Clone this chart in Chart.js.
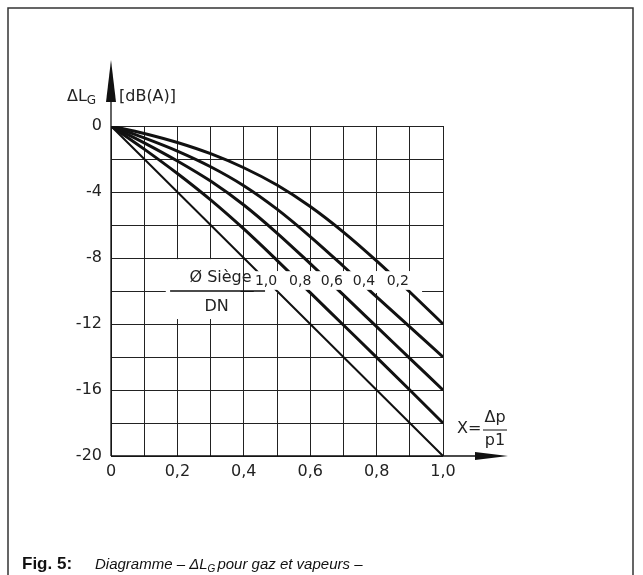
<!DOCTYPE html>
<html>
<head>
<meta charset="utf-8">
<script src="https://cdn.jsdelivr.net/npm/chart.js@4.4.1/dist/chart.umd.min.js"></script>
<style>
  html, body { margin: 0; padding: 0; background: #fff; }
  canvas { display: block; }
</style>
</head>
<body>
<canvas id="chart" width="643" height="575"></canvas>
<script>
// X = dp/p1 and correction dL_G [dB(A)] for each seat ratio (Ø siège / DN)
const xValues = [0, 0.1, 0.2, 0.3, 0.4, 0.5, 0.6, 0.7, 0.8, 0.9, 1.0];
const seatLabels = ['1,0', '0,8', '0,6', '0,4', '0,2'];
const dl10 = [0, -2, -4, -6, -8, -10, -12, -14, -16, -18, -20];
const dl08 = [0, -1.4, -2.88, -4.48, -6.24, -8.14, -10.1, -12.06, -14.02, -16.0, -18];
const dl06 = [0, -1.02, -2.12, -3.34, -4.79, -6.49, -8.34, -10.24, -12.16, -14.08, -16];
const dl04 = [0, -0.72, -1.52, -2.47, -3.62, -5.04, -6.7, -8.5, -10.36, -12.18, -14];
const dl02 = [0, -0.45, -1.0, -1.68, -2.53, -3.58, -4.88, -6.43, -8.18, -10.06, -12];
const xTickLabels = ['0', '0,2', '0,4', '0,6', '0,8', '1,0'];
const yTickLabels = ['0', '-4', '-8', '-12', '-16', '-20'];

const series = [dl10, dl08, dl06, dl04, dl02];
const FONT = '"DejaVu Sans", sans-serif';

function pts(arr) {
  return arr.map((v, i) => ({ x: xValues[i], y: v }));
}

const overlay = {
  id: 'overlay',
  beforeDatasetsDraw(chart) {
    const { ctx, scales: { x, y } } = chart;
    ctx.save();
    ctx.fillStyle = '#fff';
    // blank grid behind "Ø Siège / DN"
    let x0 = x.getPixelForValue(0.165), x1 = x.getPixelForValue(0.39);
    let y0 = y.getPixelForValue(-8.07), y1 = y.getPixelForValue(-11.7);
    ctx.fillRect(x0, y0, x1 - x0, y1 - y0);
    // blank grid behind curve labels, including the -10 line
    x0 = x.getPixelForValue(0.43); x1 = x.getPixelForValue(0.937);
    y0 = y.getPixelForValue(-8.8); y1 = y.getPixelForValue(-10) + 2;
    ctx.fillRect(x0, y0, x1 - x0, y1 - y0);
    ctx.restore();
  },
  afterDatasetsDraw(chart) {
    const { ctx, scales: { x, y } } = chart;
    ctx.save();
    // gap in the curves for the labels
    ctx.fillStyle = '#fff';
    let x0 = x.getPixelForValue(0.43), x1 = x.getPixelForValue(0.935);
    let y0 = y.getPixelForValue(-8.8), y1 = y.getPixelForValue(-9.93);
    ctx.fillRect(x0, y0, x1 - x0, y1 - y0);

    ctx.fillStyle = '#222';
    ctx.textAlign = 'center';
    ctx.textBaseline = 'middle';
    ctx.font = '16px ' + FONT;
    ctx.fillText('Ø Siège', x.getPixelForValue(0.33), y.getPixelForValue(-9.2));
    ctx.fillText('DN', x.getPixelForValue(0.318), y.getPixelForValue(-10.95));
    ctx.font = '14px ' + FONT;
    const labelX = [0.467, 0.57, 0.665, 0.762, 0.864];
    seatLabels.forEach((t, i) => {
      ctx.fillText(t, x.getPixelForValue(labelX[i]), y.getPixelForValue(-9.4));
    });

    // fraction bar and axes
    ctx.strokeStyle = '#111';
    ctx.lineWidth = 1.3;
    ctx.beginPath();
    ctx.moveTo(x.getPixelForValue(0.178), y.getPixelForValue(-10));
    ctx.lineTo(x.getPixelForValue(0.464), y.getPixelForValue(-10));
    const ax = x.getPixelForValue(0), ay = y.getPixelForValue(-20);
    ctx.moveTo(ax, ay);
    ctx.lineTo(ax, 90);
    ctx.moveTo(ax, ay);
    ctx.lineTo(480, ay);
    ctx.stroke();
    ctx.fillStyle = '#111';
    ctx.beginPath();
    ctx.moveTo(ax, 60);
    ctx.lineTo(ax + 5, 102);
    ctx.lineTo(ax - 5, 102);
    ctx.closePath();
    ctx.fill();
    ctx.beginPath();
    ctx.moveTo(508, ay);
    ctx.lineTo(475, ay - 4);
    ctx.lineTo(475, ay + 4);
    ctx.closePath();
    ctx.fill();

    // axis titles
    ctx.fillStyle = '#222';
    ctx.textAlign = 'left';
    ctx.font = '16px ' + FONT;
    ctx.fillText('ΔL', 67, 97);
    const w = ctx.measureText('ΔL').width;
    ctx.font = '12px ' + FONT;
    ctx.fillText('G', 67 + w, 101);
    ctx.font = '16px ' + FONT;
    ctx.fillText('[dB(A)]', 119, 97);
    ctx.fillText('X=', 457, 429);
    ctx.textAlign = 'center';
    ctx.fillText('Δp', 495, 418);
    ctx.fillText('p1', 495, 441);
    ctx.beginPath();
    ctx.lineWidth = 1;
    ctx.moveTo(483, 430);
    ctx.lineTo(507, 430);
    ctx.stroke();
    ctx.restore();
  },
  afterDraw(chart) {
    const { ctx } = chart;
    ctx.save();
    ctx.strokeStyle = '#333';
    ctx.lineWidth = 1.5;
    ctx.beginPath();
    ctx.moveTo(8, 575);
    ctx.lineTo(8, 8);
    ctx.lineTo(633, 8);
    ctx.lineTo(633, 575);
    ctx.stroke();
    ctx.fillStyle = '#111';
    ctx.textBaseline = 'alphabetic';
    ctx.textAlign = 'left';
    ctx.font = 'bold 17px "Liberation Sans", sans-serif';
    ctx.fillText('Fig. 5:', 22, 569);
    ctx.font = 'italic 15px "Liberation Sans", sans-serif';
    let cx = 95;
    const part1 = 'Diagramme – ΔL';
    ctx.fillText(part1, cx, 569);
    cx += ctx.measureText(part1).width;
    ctx.font = 'italic 10px "Liberation Sans", sans-serif';
    ctx.fillText('G', cx, 572);
    cx += ctx.measureText('G').width + 2;
    ctx.font = 'italic 15px "Liberation Sans", sans-serif';
    ctx.fillText('pour gaz et vapeurs –', cx, 569);
    ctx.restore();
  }
};

const datasets = series.map((s, i) => ({
  label: seatLabels[i],
  data: pts(s),
  borderColor: '#111',
  borderWidth: i === 0 ? 2 : 3,
  pointRadius: 0,
  cubicInterpolationMode: 'monotone',
  fill: false
}));

new Chart(document.getElementById('chart'), {
  type: 'line',
  data: { datasets: datasets },
  plugins: [overlay],
  options: {
    responsive: false,
    animation: false,
    layout: { padding: { left: 0, right: 200, top: 126, bottom: 88 } },
    plugins: { legend: { display: false }, tooltip: { enabled: false } },
    scales: {
      x: {
        type: 'linear',
        min: 0,
        max: 1,
        afterFit(scale) { scale.height = 31; },
        border: { display: false },
        grid: { color: '#222', lineWidth: 1, drawTicks: false },
        ticks: {
          stepSize: 0.1,
          padding: 6,
          color: '#222',
          font: { family: FONT, size: 16 },
          callback(v) {
            const k = Math.round(v * 10);
            return k % 2 === 0 ? xTickLabels[k / 2] : '';
          }
        }
      },
      y: {
        min: -20,
        max: 0,
        afterFit(scale) { scale.width = 111; },
        border: { display: false },
        grid: { color: '#222', lineWidth: 1, drawTicks: false },
        ticks: {
          stepSize: 2,
          padding: 9,
          color: '#222',
          font: { family: FONT, size: 16 },
          callback(v) {
            const k = Math.round(-v);
            return k % 4 === 0 ? yTickLabels[k / 4] : '';
          }
        }
      }
    }
  }
});
</script>
</body>
</html>
